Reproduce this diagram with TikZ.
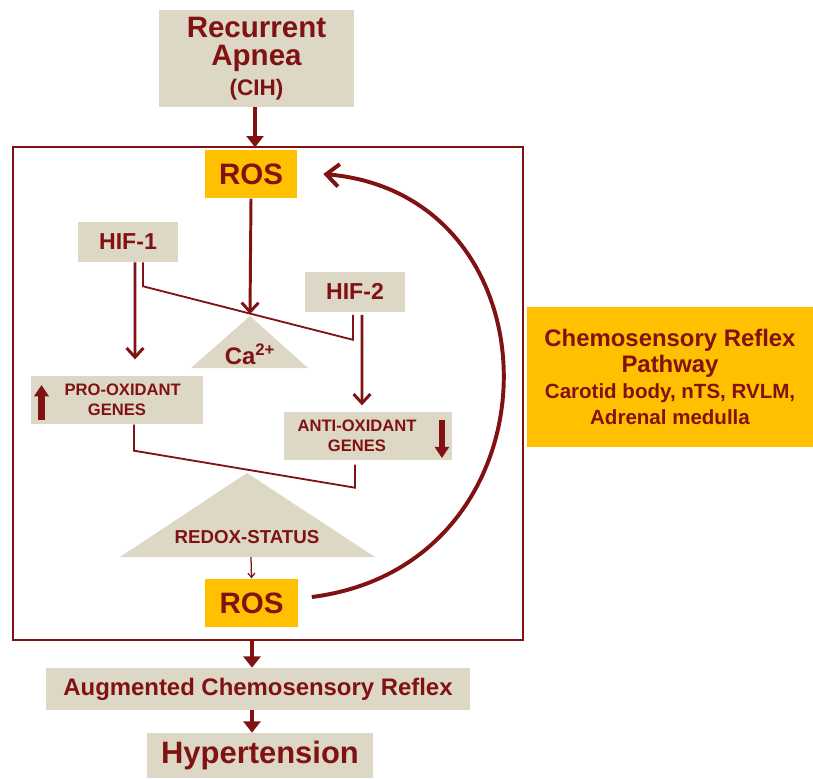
\documentclass[tikz,border=0pt]{standalone}
\usepackage{fontspec}
\setmainfont{Liberation Sans}
\usetikzlibrary{arrows.meta}
\definecolor{wine}{RGB}{128,18,20}
\definecolor{sand}{RGB}{221,215,197}
\definecolor{amber}{RGB}{255,192,0}
\begin{document}
\begin{tikzpicture}[x=0.025cm,y=-0.025cm,
		box/.style={fill=sand,text=wine,font=\bfseries,align=center,inner sep=0pt},
		rosbox/.style={box,fill=amber,minimum width=2.3cm,minimum height=1.22cm,font=\bfseries\fontsize{21}{24}\selectfont},
		hifbox/.style={box,minimum width=2.5cm,minimum height=1cm,font=\bfseries\fontsize{16.4}{19}\selectfont},
		genebox/.style={box,minimum height=1.22cm,font=\bfseries\fontsize{11.8}{14}\selectfont},
		arr/.style={draw=wine,line width=2.1pt,-{Straight Barb[length=6.5pt,width=12pt]}},
		link/.style={draw=wine,line width=1.3pt},
		fatarr/.style={draw=wine,line width=2.8pt,-{Triangle[length=8pt,width=12pt]}},
		thinarr/.style={draw=wine,line width=0.9pt,-{Straight Barb[length=3pt,width=5pt]}},
		bigarr/.style={draw=wine,line width=4.6pt,-{Triangle[length=8pt,width=10pt]}},
		backarr/.style={draw=wine,line width=2.8pt,-{Straight Barb[length=9pt,width=16pt]}}]
		\useasboundingbox (0,0) rectangle (813,778);
		\def\frame{(13,147) rectangle (523,640)}
		\def\catri{(250,316) -- (308,368) -- (191,368) -- cycle}
		\def\redoxtri{(247,473) -- (375,557) -- (120,557) -- cycle}
		\draw[wine,line width=1.4pt] \frame;
		\fill[sand] \catri;
		\fill[sand] \redoxtri;
		\coordinate (caTop) at (250,314);
		\coordinate (redoxBase) at (251,557);
		\coordinate (frameOut) at (252,640);
		% boxes
		\node[box,minimum width=4.875cm,minimum height=2.425cm,font=\bfseries\fontsize{21}{20}\selectfont] (apnea) at (256.5,58.5)
			{Recurrent\\Apnea\\[1pt]\fontsize{16}{19}\selectfont (CIH)};
		\node[rosbox] (rosTop) at (251,174) {ROS};
		\node[rosbox] (rosBot) at (251.5,603) {ROS};
		\node[hifbox] (hifA) at (128,242) {HIF-1};
		\node[hifbox] (hifB) at (355,291.5) {HIF-2};
		\node[genebox,minimum width=4.3cm] (pro) at (117,400) {\hspace*{8pt}PRO-OXIDANT\\GENES};
		\node[genebox,minimum width=4.2cm] (anti) at (368,436) {};
		\node[text=wine,font=\bfseries\fontsize{11.8}{14}\selectfont,align=center,inner sep=0pt] (antiText) at (357,436) {ANTI-OXIDANT\\GENES};
		\node[text=wine,font=\bfseries\fontsize{17}{20}\selectfont,inner sep=0pt] (caLabel) at (250,354) {Ca\textsuperscript{2+}};
		\node[text=wine,font=\bfseries\fontsize{13.3}{16}\selectfont,inner sep=0pt] (redoxLabel) at (247,537) {REDOX-STATUS};
		\node[box,minimum width=10.6cm,minimum height=1.05cm,font=\bfseries\fontsize{17}{20}\selectfont] (aug) at (258,689) {Augmented Chemosensory Reflex};
		\node[box,minimum width=5.65cm,minimum height=1.125cm,font=\bfseries\fontsize{22}{26}\selectfont] (hyper) at (260,755.5) {Hypertension};
		\node[box,fill=amber,minimum width=7.15cm,minimum height=3.5cm,font=\bfseries\fontsize{17}{18.5}\selectfont] (chemo) at (670,377)
			{Chemosensory Reflex\\Pathway\\\fontsize{14.6}{18.5}\selectfont Carotid body, nTS, RVLM,\\\fontsize{14.6}{18.5}\selectfont Adrenal medulla};
		% connectors
		\draw[fatarr] (apnea.south -| frameOut) ++(3,0) -- ++(0,40);
		\draw[arr] (rosTop.south) -- (caTop);
		\draw[arr,shorten >=0.4cm] ([xshift=0.175cm]hifA.south) -- ([xshift=0.45cm]pro.north);
		\draw[link] ([xshift=0.375cm]hifA.south) -- ++(0,24) -- ([xshift=-0.05cm,yshift=-0.7cm]hifB.south) -- ([xshift=-0.05cm,yshift=-0.075cm]hifB.south);
		\draw[arr,shorten <=0.075cm,shorten >=0.15cm] ([xshift=0.175cm]hifB.south) -- ([xshift=-0.15cm]anti.north);
		\draw[link] ([xshift=0.425cm]pro.south) -- ++(0,26) -- ([xshift=-0.325cm,yshift=-0.675cm]anti.south) -- ([xshift=-0.325cm,yshift=-0.1cm]anti.south);
		\draw[bigarr] ([shift={(0.27cm,-0.5cm)}]pro.west) -- ([shift={(0.27cm,0.375cm)}]pro.west);
		\draw[bigarr] ([shift={(-0.26cm,0.4cm)}]anti.east) -- ([shift={(-0.26cm,-0.55cm)}]anti.east);
		\draw[thinarr] (redoxBase) -- (rosBot.north);
		\draw[backarr] ([shift={(0.35cm,0.15cm)}]rosBot.east) .. controls (565,565) and (565,195) .. ([xshift=0.65cm]rosTop.east);
		\draw[fatarr] (frameOut) -- (frameOut |- aug.north);
		\draw[fatarr] (frameOut |- aug.south) -- (frameOut |- hyper.north);
	\end{tikzpicture}
\end{document}
